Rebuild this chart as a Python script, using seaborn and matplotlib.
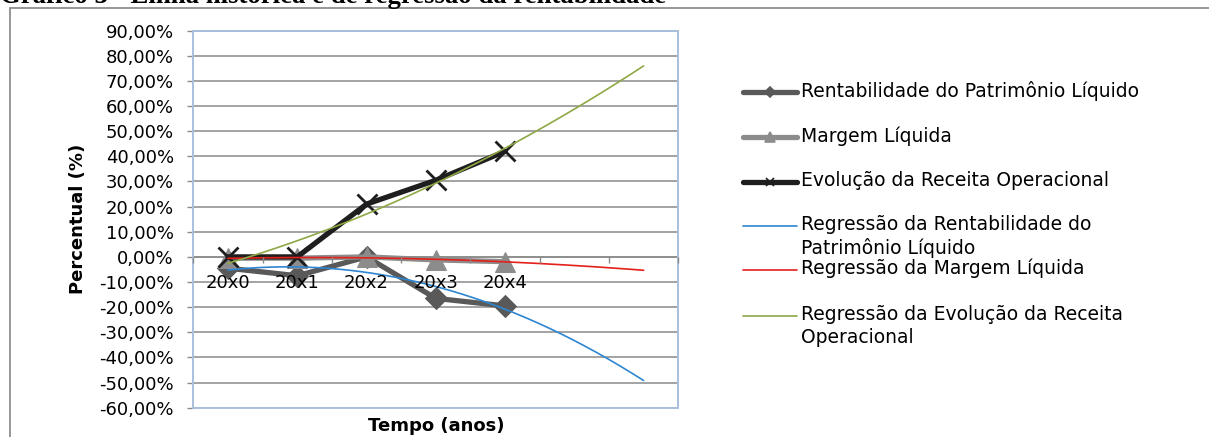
import numpy as np
import matplotlib
matplotlib.use("Agg")
import matplotlib.pyplot as plt
from matplotlib.lines import Line2D
from matplotlib.patches import Rectangle
from matplotlib.ticker import FuncFormatter
import seaborn as sns

# ---- data (percent) ----
periods = ["20x0", "20x1", "20x2", "20x3", "20x4"]
forecast_periods = 2
rentabilidade_pl = [-4.5, -7.5, 0.0, -16.5, -19.5]
margem_liquida = [-0.5, -0.5, 0.0, -1.2, -1.9]
receita_operacional = [0.0, 0.0, 21.0, 30.5, 42.0]
y_ticks = list(range(-60, 100, 10))

series_labels = [
    "Rentabilidade do Patrimônio Líquido",
    "Margem Líquida",
    "Evolução da Receita Operacional",
]
trend_labels = [
    "Regressão da Rentabilidade do\nPatrimônio Líquido",
    "Regressão da Margem Líquida",
    "Regressão da Evolução da Receita\nOperacional",
]

sns.set_theme(style="white")
plt.rcParams["font.family"] = ["DejaVu Sans"]

W, H = 1209, 437
fig = plt.figure(figsize=(W / 100, H / 100), dpi=100)


def fx(px):
    return px / W


def fy(py):
    return 1 - py / H


ax = fig.add_axes([fx(193.3), fy(407.7), fx(678.3) - fx(193.3), fy(30.7) - fy(407.7)])

x_hist = np.arange(len(periods))
x_fit = np.linspace(0, len(periods) - 1 + forecast_periods, 300)

c_pl, c_ml, c_ro = "#595959", "#8C8C8C", "#1E1E1E"
c_tr = ["#2E86D1", "#E3201B", "#8FA846"]

sns.lineplot(x=x_hist, y=rentabilidade_pl, ax=ax, color=c_pl, lw=3.8,
             marker="D", markersize=11, markeredgecolor=c_pl, zorder=3)
sns.lineplot(x=x_hist, y=margem_liquida, ax=ax, color=c_ml, lw=3.8,
             marker="^", markersize=15, markeredgecolor=c_ml, zorder=4)
sns.lineplot(x=x_hist, y=receita_operacional, ax=ax, color=c_ro, lw=3.8,
             marker="x", markersize=14, markeredgewidth=2,
             markeredgecolor=c_ro, zorder=5)

# second-order polynomial trend lines, projected two periods ahead
for values, color in zip([rentabilidade_pl, margem_liquida, receita_operacional], c_tr):
    coef = np.polyfit(x_hist, values, 2)
    sns.lineplot(x=x_fit, y=np.polyval(coef, x_fit), ax=ax, color=color,
                 lw=1.2, zorder=6)

# ---- axes styling ----
ax.set_xlim(-0.5, 6.5)
ax.set_ylim(-60, 90)
ax.set_yticks(y_ticks)
ax.yaxis.set_major_formatter(FuncFormatter(lambda v, p: f"{v:.2f}%".replace(".", ",")))
ax.grid(axis="y", color="#8A8A8A", lw=1.1)
ax.grid(axis="x", visible=False)

for side in ("left", "top", "right"):
    ax.spines[side].set_visible(False)
ax.spines["bottom"].set_position(("data", 0))
ax.spines["bottom"].set_color("#8A8A8A")
ax.spines["bottom"].set_linewidth(1.1)
ax.add_patch(Rectangle((0, 0), 1, 1, transform=ax.transAxes, fill=False,
                       edgecolor="#A9BFDB", lw=1.4, clip_on=False, zorder=2.6))

ax.set_xticks(np.arange(-0.5, 7.0, 1.0))
ax.set_xticklabels([])
ax.set_xticks(x_hist, minor=True)
ax.set_xticklabels(periods, minor=True)
ax.tick_params(axis="x", which="major", bottom=True, direction="out",
               length=4, width=1, color="#8A8A8A")
ax.tick_params(axis="x", which="minor", bottom=True, length=0, pad=12,
               labelsize=13, labelcolor="black")
ax.tick_params(axis="y", left=True, direction="out", length=4, width=1,
               color="#8A8A8A", pad=10, labelsize=13, labelcolor="black")
ax.xaxis.set_zorder(7)

ax.set_ylabel("Percentual (%)", fontsize=13, fontweight="bold", labelpad=9, color="black")
ax.set_xlabel("Tempo (anos)", fontsize=13, fontweight="bold", color="black")
ax.xaxis.set_label_coords(0.5, -0.025)

# ---- figure title (partly cut by the top edge) and frame ----
fig.text(fx(0), fy(3), "Gráfico 3 - Linha histórica e de regressão da rentabilidade",
         family="Liberation Serif", fontweight="bold", fontsize=19.3,
         ha="left", va="baseline", color="black")
fig.add_artist(Line2D([fx(10), 1.0], [fy(7.5), fy(7.5)], color="#8F8F8F", lw=1.3))
fig.add_artist(Line2D([fx(10), fx(10)], [fy(7.5), 0.0], color="#8F8F8F", lw=1.3))

# ---- legend ----
legend_rows = [
    (series_labels[0], c_pl, 3.8, "D", 5, 92),
    (series_labels[1], c_ml, 3.8, "^", 7, 137),
    (series_labels[2], c_ro, 3.8, "x", 6, 182),
    (trend_labels[0], c_tr[0], 1.2, None, 0, 226),
    (trend_labels[1], c_tr[1], 1.2, None, 0, 270),
    (trend_labels[2], c_tr[2], 1.2, None, 0, 316),
]
for label, color, lw, mk, ms, ypix in legend_rows:
    fig.add_artist(Line2D([fx(743), fx(770), fx(797)], [fy(ypix)] * 3, color=color, lw=lw,
                          marker=mk, markersize=ms, markevery=[1],
                          markeredgecolor=color, markeredgewidth=1.2))
    fig.text(fx(801), fy(ypix - 11), label, fontsize=13.5, ha="left", va="top",
             color="black", linespacing=1.25)

fig.savefig("out.png", dpi=100, facecolor="white")
